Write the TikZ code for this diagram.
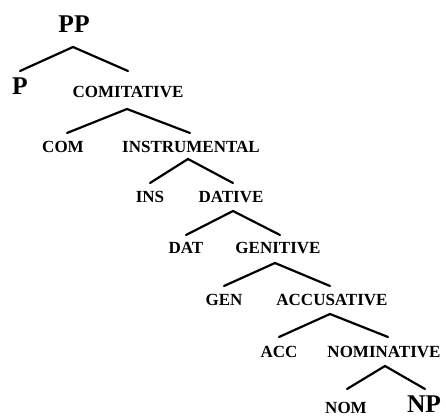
\documentclass[tikz,border=0pt]{standalone}
\usepackage{fontspec}
\setmainfont{Liberation Serif}
\tikzset{
  cat/.style={inner sep=0pt, anchor=base, font=\fontsize{17}{19}\selectfont\bfseries},
  bigcat/.style={inner sep=0pt, anchor=base, font=\fontsize{25.5}{28}\selectfont\bfseries},
  branch/.style={line width=2.2pt, line cap=round}
}
\begin{document}
\begin{tikzpicture}[x=1pt, y=-1pt]
\useasboundingbox (0,0) rectangle (446,417);
		%Knoten
		\node[bigcat] (PP) at (74,33) {PP};
		\node[bigcat] (P) at (20,95) {P};
		\node[cat] (COMITATIVE) at (128,97) {COMITATIVE};
		\node[cat] (COM) at (63,152) {COM};
		\node[cat] (INSTRUMENTAL) at (191,152) {INSTRUMENTAL};
		\node[cat] (INS) at (150,202) {INS};
		\node[cat] (DATIVE) at (231,202) {DATIVE};
		\node[cat] (DAT) at (186,253) {DAT};
		\node[cat] (GENITIVE) at (278,253) {GENITIVE};
		\node[cat] (GEN) at (224,305) {GEN};
		\node[cat] (ACCUSATIVE) at (332,305) {ACCUSATIVE};
		\node[cat] (ACC) at (279,357) {ACC};
		\node[cat] (NOMINATIVE) at (384,357) {NOMINATIVE};
		\node[cat] (NOM) at (346,413) {NOM};
		\node[bigcat] (NP) at (424,412) {NP};
		
		%Aeste
		\draw[branch] ([yshift=24pt]P.base) -- ([xshift=-1pt,yshift=-14pt]PP.base) -- ([yshift=26pt]COMITATIVE.base);
		\draw[branch] ([xshift=4pt,yshift=19pt]COM.base) -- ([xshift=-1pt,yshift=-12pt]COMITATIVE.base) -- ([xshift=-1pt,yshift=19pt]INSTRUMENTAL.base);
		\draw[branch] ([yshift=19pt]INS.base) -- ([xshift=-3pt,yshift=-7pt]INSTRUMENTAL.base) -- ([xshift=2pt,yshift=19pt]DATIVE.base);
		\draw[branch] ([yshift=18pt]DAT.base) -- ([xshift=2pt,yshift=-9pt]DATIVE.base) -- ([xshift=2pt,yshift=18pt]GENITIVE.base);
		\draw[branch] ([yshift=19pt]GEN.base) -- ([xshift=-3pt,yshift=-10pt]GENITIVE.base) -- ([xshift=-2pt,yshift=19pt]ACCUSATIVE.base);
		\draw[branch] ([yshift=20pt]ACC.base) -- ([xshift=-2pt,yshift=-9pt]ACCUSATIVE.base) -- ([xshift=4pt,yshift=20pt]NOMINATIVE.base);
		\draw[branch] ([xshift=1pt,yshift=24pt]NOM.base) -- ([xshift=1pt,yshift=-9pt]NOMINATIVE.base) -- ([xshift=1pt,yshift=23pt]NP.base);
		
\end{tikzpicture}
\end{document}
